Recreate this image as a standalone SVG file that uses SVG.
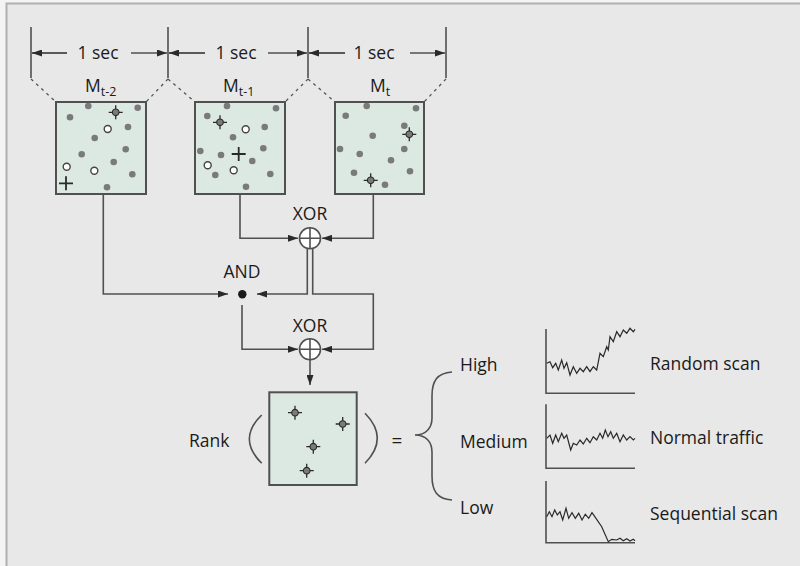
<svg xmlns="http://www.w3.org/2000/svg" xmlns:xlink="http://www.w3.org/1999/xlink" width="800" height="566" viewBox="0 0 800 566">
<style>
text{font-family:"Open Sans","Noto Sans","Liberation Sans",sans-serif;font-size:17.5px;font-weight:500;fill:#1a1a1a}
.mid{text-anchor:middle}
.sub{font-size:12.5px}
.ln{fill:none;stroke:#505050;stroke-width:1.6}
.dash{fill:none;stroke:#555;stroke-width:1.3;stroke-dasharray:3 4}
.box{fill:#dce9e2;stroke:#505050;stroke-width:2}
.dot{fill:#7a7a7a}
.hol{fill:#fff;stroke:#444;stroke-width:1.4}
.ax{fill:none;stroke:#505050;stroke-width:1.6}
.sig{fill:none;stroke:#2a2a2a;stroke-width:1.2}
.xor{fill:#fff;stroke:#505050;stroke-width:1.6}
</style>
<defs>
<marker id="ah" viewBox="0 0 10 7" refX="10" refY="3.5" markerWidth="10" markerHeight="7" markerUnits="userSpaceOnUse" orient="auto">
<path d="M0,0 L10,3.5 L0,7 z" fill="#2a2a2a"/>
</marker>
<g id="cr">
<path d="M-7,0 H7 M0,-7 V7" stroke="#2a2a2a" stroke-width="1.3"/>
<circle r="3.3" fill="#7a7a7a" stroke="#2a2a2a" stroke-width="1.1"/>
</g>
<g id="pl">
<path d="M-7,0 H7 M0,-7 V7" stroke="#2a2a2a" stroke-width="1.8"/>
</g>
</defs>
<rect x="0" y="0" width="800" height="566" fill="#f4f4f4"/>
<rect x="6.5" y="3.5" width="800" height="570" fill="#e8e8e8" stroke="#b0b0b0" stroke-width="2"/>

<g id="timeline">
<path class="ln" d="M31,27 V78 M168,27 V78 M308,27 V78 M446,27 V78"/>
<path class="ln" d="M67,53 H32 M131,53 H167" marker-end="url(#ah)"/>
<path class="ln" d="M67,53 H32" marker-end="url(#ah)"/>
<path class="ln" d="M205,53 H169 M268,53 H307" marker-end="url(#ah)"/>
<path class="ln" d="M205,53 H169" marker-end="url(#ah)"/>
<path class="ln" d="M345,53 H309 M410,53 H445" marker-end="url(#ah)"/>
<path class="ln" d="M345,53 H309" marker-end="url(#ah)"/>
<text class="mid" x="98" y="59">1 sec</text>
<text class="mid" x="236" y="59">1 sec</text>
<text class="mid" x="374" y="59">1 sec</text>
<path class="dash" d="M31,79 L56,102 M168,79 L146,102 M168,79 L195,102 M308,79 L285,102 M308,79 L335,102 M446,79 L424,102"/>
</g>

<g id="m-t2">
<text x="85" y="92">M<tspan class="sub" dy="4">t-2</tspan></text>
<rect class="box" x="56" y="102" width="90" height="92"/>
<circle class="dot" cx="88.3" cy="106" r="3.3"/><circle class="dot" cx="137.7" cy="107.7" r="3.3"/>
<circle class="dot" cx="70" cy="117.3" r="3.3"/><circle class="dot" cx="128" cy="127" r="3.3"/>
<circle class="dot" cx="94.7" cy="138" r="3.3"/><circle class="dot" cx="125.7" cy="149.3" r="3.3"/>
<circle class="dot" cx="81.7" cy="154.3" r="3.3"/><circle class="dot" cx="113.7" cy="162" r="3.3"/>
<circle class="dot" cx="132.3" cy="174.3" r="3.3"/><circle class="dot" cx="107" cy="187.3" r="3.3"/>
<circle class="hol" cx="107.7" cy="129" r="3.5"/><circle class="hol" cx="66.7" cy="166.7" r="3.5"/><circle class="hol" cx="94.3" cy="170.7" r="3.5"/>
<use xlink:href="#cr" x="115.7" y="112.3"/>
<use xlink:href="#pl" x="66" y="183.3"/>
</g>

<g id="m-t1">
<text x="223" y="92">M<tspan class="sub" dy="4">t-1</tspan></text>
<rect class="box" x="195" y="102" width="90" height="92"/>
<circle class="dot" cx="227" cy="106" r="3.3"/><circle class="dot" cx="276" cy="108.3" r="3.3"/>
<circle class="dot" cx="207.3" cy="116" r="3.3"/><circle class="dot" cx="264.7" cy="127" r="3.3"/>
<circle class="dot" cx="233" cy="137.3" r="3.3"/><circle class="dot" cx="200.3" cy="151" r="3.3"/>
<circle class="dot" cx="221" cy="155" r="3.3"/><circle class="dot" cx="263.3" cy="148.3" r="3.3"/>
<circle class="dot" cx="252.3" cy="161" r="3.3"/><circle class="dot" cx="215.3" cy="175" r="3.3"/>
<circle class="dot" cx="270.3" cy="174" r="3.3"/><circle class="dot" cx="246" cy="186.7" r="3.3"/>
<circle class="hol" cx="245.7" cy="129.3" r="3.5"/><circle class="hol" cx="207.7" cy="165.3" r="3.5"/><circle class="hol" cx="233.7" cy="170.3" r="3.5"/>
<use xlink:href="#cr" x="220" y="122.3"/>
<use xlink:href="#pl" x="238.7" y="154"/>
</g>

<g id="m-t">
<text x="370" y="92">M<tspan class="sub" dy="4">t</tspan></text>
<rect class="box" x="335" y="102" width="89" height="92"/>
<circle class="dot" cx="366.7" cy="106" r="3.3"/><circle class="dot" cx="416" cy="108.3" r="3.3"/>
<circle class="dot" cx="345.7" cy="115.7" r="3.3"/><circle class="dot" cx="404.3" cy="125.7" r="3.3"/>
<circle class="dot" cx="372.7" cy="135.7" r="3.3"/><circle class="dot" cx="340" cy="149" r="3.3"/>
<circle class="dot" cx="359.7" cy="154" r="3.3"/><circle class="dot" cx="404.3" cy="149" r="3.3"/>
<circle class="dot" cx="391" cy="160.3" r="3.3"/><circle class="dot" cx="354" cy="172.7" r="3.3"/>
<circle class="dot" cx="410" cy="171.3" r="3.3"/><circle class="dot" cx="385" cy="184.7" r="3.3"/>
<use xlink:href="#cr" x="409.3" y="134.3"/>
<use xlink:href="#cr" x="370.7" y="180.3"/>
</g>

<g id="connectors">
<path class="ln" d="M103.3,194 V294 H228" marker-end="url(#ah)"/>
<path class="ln" d="M240,194 V238.3 H298" marker-end="url(#ah)"/>
<path class="ln" d="M373.3,194 V238.3 H322" marker-end="url(#ah)"/>
<path class="ln" d="M307.3,249 V294 H257" marker-end="url(#ah)"/>
<path class="ln" d="M312.7,249 V294 H373.3 V349.3 H322" marker-end="url(#ah)"/>
<path class="ln" d="M242,305 V349.3 H298" marker-end="url(#ah)"/>
<path class="ln" d="M310,360 V385" marker-end="url(#ah)"/>
</g>

<g id="xor1">
<text class="mid" x="310" y="220">XOR</text>
<circle class="xor" cx="310" cy="238.3" r="10.5"/>
<path class="ln" d="M299.5,238.3 H320.5 M310,227.8 V248.8"/>
</g>
<g id="and">
<text class="mid" x="242" y="278">AND</text>
<circle cx="242.3" cy="294.3" r="4.2" fill="#1a1a1a"/>
</g>
<g id="xor2">
<text class="mid" x="310" y="332">XOR</text>
<circle class="xor" cx="310" cy="349.3" r="10.5"/>
<path class="ln" d="M299.5,349.3 H320.5 M310,338.8 V359.8"/>
</g>

<g id="rank">
<text x="189" y="447">Rank</text>
<path class="ln" d="M261.7,415 Q237,439 261.7,463.3"/>
<rect class="box" x="269.3" y="392.3" width="87.4" height="92.7"/>
<use xlink:href="#cr" x="295" y="412.7"/>
<use xlink:href="#cr" x="342.7" y="424"/>
<use xlink:href="#cr" x="313.3" y="446.7"/>
<use xlink:href="#cr" x="306.7" y="470.7"/>
<path class="ln" d="M365,413.3 Q389.6,438.3 365,463.3"/>
<text class="mid" x="397" y="447" style="font-size:19px">=</text>
<path class="ln" d="M452,372 C437,373 432,381 432,396 V418 C432,428 426,435 415,435 C426,435 432,442 432,452 V476 C432,491 437,499 452,500"/>
</g>

<g id="high">
<text x="460" y="371">High</text>
<path class="ax" d="M546,329 V393.3 H635"/>
<polyline class="sig" points="546.7,363.3 550,361.7 552.7,367.7 555.7,363.3 558.3,370 561.7,360 564,368.3 566.7,362.7 570,375 573.3,366.7 576.7,373.3 580,368.3 583.3,371.7 586.7,366.7 590,371.7 593.3,366.7 596.7,370 600,353.3 603.3,356.7 606.7,346.7 608.3,350 610,336.7 613.3,341.7 616.7,331.7 620,336.7 623.3,330 626.7,333.3 630,328.3 633.3,331.7 635,329.3"/>
<text x="650" y="370">Random scan</text>
</g>
<g id="medium">
<text x="460" y="448">Medium</text>
<path class="ax" d="M546,404.3 V468.3 H635"/>
<polyline class="sig" points="546.7,438.3 550,435 552.7,443.3 555.7,435 558.3,441.7 561.7,433.3 564,438.3 566.7,435 570.7,450 573.3,443.3 576.7,445 580,440 583.3,444 586.7,438.3 590,442.7 593.3,436.7 596.7,440 600,433.3 602.7,438.3 605.3,430 608,436.7 610.7,431.7 613.3,438.3 616.7,433.3 620,441.7 623.3,435 626.7,440 630,436.7 633.3,440 635,438.3"/>
<text x="650" y="444">Normal traffic</text>
</g>
<g id="low">
<text x="460" y="514">Low</text>
<path class="ax" d="M546,481 V542.7 H635"/>
<polyline class="sig" points="546.7,516.7 549.3,511.7 552,516.7 554.7,510 557.3,515 560,511.7 562.7,520 566,508.3 568.7,518.3 572,512.7 575.3,518.3 578.7,513.3 582,520 585.3,514.3 588.7,518.3 592,512.7 596,518.3 601.7,526.7 608.3,541.7 611.7,539.3 616.7,540 620,538.3 623.3,540.7 626.7,538.7 630,541 633.3,539.3 635,540.7"/>
<text x="650" y="520">Sequential scan</text>
</g>
</svg>
